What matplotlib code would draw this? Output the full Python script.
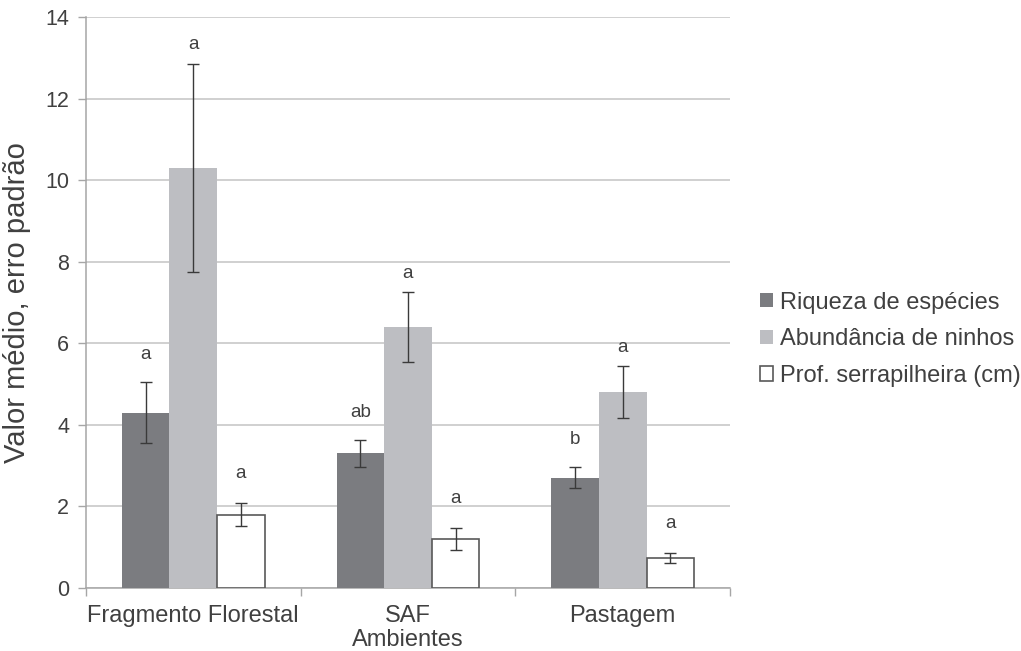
import numpy as np
import matplotlib
matplotlib.use("Agg")
import matplotlib.pyplot as plt

plt.rcParams["font.family"] = ["Liberation Sans", "DejaVu Sans"]

# data
ambientes = ["Fragmento Florestal", "SAF", "Pastagem"]
series_names = ["Riqueza de espécies", "Abundância de ninhos", "Prof. serrapilheira (cm)"]
riqueza = [4.3, 3.3, 2.7]
riqueza_err = [0.75, 0.33, 0.26]
abundancia = [10.3, 6.4, 4.8]
abundancia_err = [2.55, 0.85, 0.63]
serrapilheira = [1.8, 1.2, 0.74]
serrapilheira_err = [0.29, 0.27, 0.12]
letras_riqueza = ["a", "ab", "b"]
letras_abundancia = ["a", "a", "a"]
letras_serrapilheira = ["a", "a", "a"]

TEXT = "#404040"
GRID = "#c4c4c4"

fig = plt.figure(figsize=(10.21, 6.51), dpi=100)
ax = fig.add_axes([0.0842, 0.0968, 0.715 - 0.0842, 0.974 - 0.0968])

x = np.arange(len(ambientes))
w = 0.222
specs = [
    (riqueza, riqueza_err, letras_riqueza, "#7b7c80", "none", 0.68),
    (abundancia, abundancia_err, letras_abundancia, "#bdbec2", "none", 0.47),
    (serrapilheira, serrapilheira_err, letras_serrapilheira, "white", "#595959", 0.72),
]

for k, (vals, errs, letras, color, edge, off) in enumerate(specs):
    pos = x + (k - 1) * w
    ax.bar(pos, vals, width=w, color=color, edgecolor=edge,
           linewidth=1.2, label=series_names[k], zorder=3)
    ax.errorbar(pos, vals, yerr=errs, fmt="none", ecolor="#3a3a3a",
                elinewidth=1.0, capsize=4, capthick=1.0, zorder=4)
    for p, v, e, t in zip(pos, vals, errs, letras):
        ax.text(p, v + e + off, t, ha="center", va="center",
                fontsize=13.5, color=TEXT)

ax.set_xlim(-0.5, len(ambientes) - 0.5)
ax.set_ylim(0, 14)
ax.set_yticks(range(0, 15, 2))
ax.yaxis.grid(True, color=GRID, linewidth=1.1, zorder=0)
ax.set_axisbelow(True)

ax.set_xticks(x)
ax.set_xticklabels(ambientes, fontsize=17, color=TEXT)
ax.set_xticks(np.arange(-0.5, len(ambientes)), minor=True)
ax.tick_params(axis="x", which="major", length=0, pad=12)
ax.tick_params(axis="x", which="minor", length=6, color="#a6a6a6", width=1)
ax.tick_params(axis="y", length=6, color="#a6a6a6", width=1,
               labelsize=15.5, labelcolor=TEXT, pad=6)

for side in ["top", "right"]:
    ax.spines[side].set_visible(False)
for side in ["left", "bottom"]:
    ax.spines[side].set_color("#a6a6a6")
    ax.spines[side].set_linewidth(1.1)

ax.set_ylabel("Valor médio, erro padrão", fontsize=21, color=TEXT, labelpad=10)
ax.set_xlabel("Ambientes", fontsize=17, color=TEXT, labelpad=2)

leg = ax.legend(loc="center left", bbox_to_anchor=(0.735, 0.479),
                bbox_transform=fig.transFigure, frameon=False,
                fontsize=17, handlelength=0.55, handleheight=0.55,
                handletextpad=0.3, labelspacing=0.62, borderaxespad=0)
for t in leg.get_texts():
    t.set_color(TEXT)

fig.savefig("out.png", dpi=100)
